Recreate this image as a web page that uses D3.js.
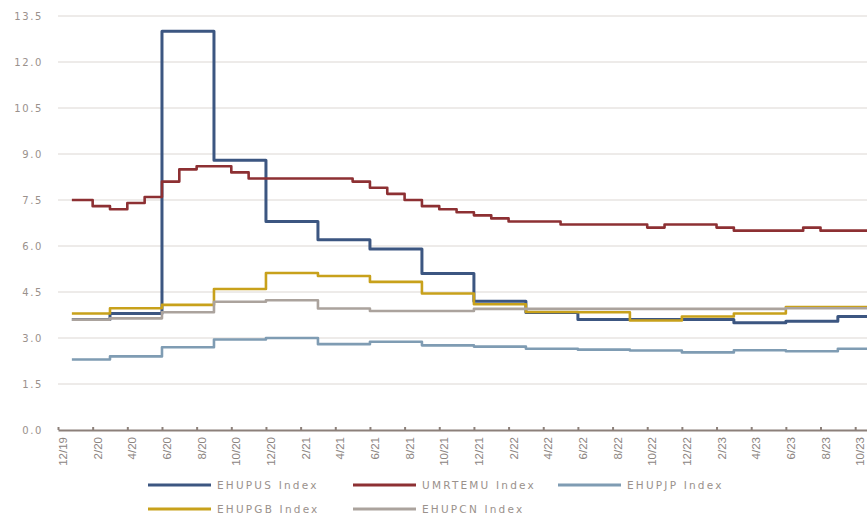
<!DOCTYPE html>
<html lang="en"><head>
<meta charset="utf-8">
<title>Unemployment forecasts</title>
<script src="https://cdn.jsdelivr.net/npm/d3@7/dist/d3.min.js"></script>
<style>
  body { margin: 0; background: #fff; }
  svg { display: block; }
</style>
</head>
<body>
<script type="text/javascript">

var width = 867;
var height = 515;

// month index 0 = 12/19; each value holds for that month (step series)
var tickLabels = ["12/19", "2/20", "4/20", "6/20", "8/20", "10/20", "12/20", "2/21", "4/21", "6/21",
                  "8/21", "10/21", "12/21", "2/22", "4/22", "6/22", "8/22", "10/22", "12/22", "2/23",
                  "4/23", "6/23", "8/23", "10/23"];
var yTicks = [0, 1.5, 3, 4.5, 6, 7.5, 9, 10.5, 12, 13.5];
var startMonth = 0.8;   // first observation, late Dec 2019

var seriesNames = ["EHUPUS Index", "UMRTEMU Index", "EHUPJP Index", "EHUPGB Index", "EHUPCN Index"];
var seriesColors = ["#3c5681", "#8d3033", "#7f9cb3", "#c8a11b", "#aba39d"];

var ehupus = [3.6, 3.6, 3.6, 3.8, 3.8, 3.8, 13.0, 13.0, 13.0, 8.8, 8.8, 8.8,
              6.8, 6.8, 6.8, 6.2, 6.2, 6.2, 5.9, 5.9, 5.9, 5.1, 5.1, 5.1,
              4.2, 4.2, 4.2, 3.83, 3.83, 3.83, 3.6, 3.6, 3.6, 3.6, 3.6, 3.6,
              3.6, 3.6, 3.6, 3.5, 3.5, 3.5, 3.55, 3.55, 3.55, 3.7, 3.7, 3.7];
var umrtemu = [7.5, 7.5, 7.3, 7.2, 7.4, 7.6, 8.1, 8.5, 8.6, 8.6, 8.4, 8.2,
               8.2, 8.2, 8.2, 8.2, 8.2, 8.1, 7.9, 7.7, 7.5, 7.3, 7.2, 7.1,
               7.0, 6.9, 6.8, 6.8, 6.8, 6.7, 6.7, 6.7, 6.7, 6.7, 6.6, 6.7,
               6.7, 6.7, 6.6, 6.5, 6.5, 6.5, 6.5, 6.6, 6.5, 6.5, 6.5, 6.5];
var ehupjp = [2.3, 2.3, 2.3, 2.4, 2.4, 2.4, 2.7, 2.7, 2.7, 2.95, 2.95, 2.95,
              3.0, 3.0, 3.0, 2.8, 2.8, 2.8, 2.88, 2.88, 2.88, 2.76, 2.76, 2.76,
              2.72, 2.72, 2.72, 2.65, 2.65, 2.65, 2.62, 2.62, 2.62, 2.59, 2.59, 2.59,
              2.53, 2.53, 2.53, 2.6, 2.6, 2.6, 2.57, 2.57, 2.57, 2.65, 2.65, 2.65];
var ehupgb = [3.8, 3.8, 3.8, 3.97, 3.97, 3.97, 4.08, 4.08, 4.08, 4.6, 4.6, 4.6,
              5.12, 5.12, 5.12, 5.02, 5.02, 5.02, 4.83, 4.83, 4.83, 4.45, 4.45, 4.45,
              4.1, 4.1, 4.1, 3.85, 3.85, 3.85, 3.84, 3.84, 3.84, 3.57, 3.57, 3.57,
              3.7, 3.7, 3.7, 3.8, 3.8, 3.8, 4.01, 4.01, 4.01, 4.01, 4.01, 4.01];
var ehupcn = [3.6, 3.6, 3.6, 3.64, 3.64, 3.64, 3.84, 3.84, 3.84, 4.18, 4.18, 4.18,
              4.23, 4.23, 4.23, 3.96, 3.96, 3.96, 3.88, 3.88, 3.88, 3.88, 3.88, 3.88,
              3.95, 3.95, 3.95, 3.95, 3.95, 3.95, 3.95, 3.95, 3.95, 3.95, 3.95, 3.95,
              3.95, 3.95, 3.95, 3.95, 3.95, 3.95, 3.97, 3.97, 3.97, 3.97, 3.97, 3.97];

var seriesValues = [ehupus, umrtemu, ehupjp, ehupgb, ehupcn];

var svg = d3.select("body").append("svg")
            .attr("width", width)
            .attr("height", height);

var x = d3.scaleLinear().domain([0, 48]).range([58, 58 + 48 * 17.33]);
var y = d3.scaleLinear().domain([0, 13.5]).range([430, 16]);

// gridlines
svg.append("g")
    .selectAll("line")
    .data(yTicks.filter(d => d > 0))
    .enter()
    .append("line")
    .attr("x1", x(0))
    .attr("x2", x(48))
    .attr("y1", d => y(d))
    .attr("y2", d => y(d))
    .attr("stroke", "#dcd7d3")
    .attr("stroke-width", 1);

// y labels
svg.append("g")
    .selectAll("text")
    .data(yTicks)
    .enter()
    .append("text")
    .attr("x", 43)
    .attr("y", d => y(d))
    .attr("dy", "0.35em")
    .attr("text-anchor", "end")
    .attr("font-family", "DejaVu Sans, Verdana, sans-serif")
    .attr("font-size", "10px")
    .attr("letter-spacing", "1.6px")
    .attr("fill", "#9a918c")
    .text(d => d.toFixed(1));

// x axis
var xAxis = d3.axisBottom(x)
    .tickValues(tickLabels.map((d, i) => i * 2))
    .tickFormat((d, i) => tickLabels[i])
    .tickSizeInner(-3)
    .tickSizeOuter(0);

var gx = svg.append("g")
    .attr("transform", "translate(0," + y(0) + ")")
    .call(xAxis);

gx.select(".domain").attr("stroke", "#8c807a").attr("stroke-width", 2);
gx.selectAll(".tick line").attr("stroke", "#8c807a").attr("stroke-width", 2);
gx.selectAll(".tick text")
    .attr("transform", "rotate(-90)")
    .attr("x", -7)
    .attr("y", 0)
    .attr("dy", "0.75em")
    .attr("text-anchor", "end")
    .attr("font-family", "Liberation Sans Narrow, Arial Narrow, sans-serif")
    .attr("font-stretch", "condensed")
    .attr("font-size", "11.5px")
    .attr("fill", "#8c847f");

// step lines
var line = d3.line()
    .x(d => x(d[0]))
    .y(d => y(d[1]))
    .curve(d3.curveStepAfter);

seriesValues.forEach((vals, s) => {
    var pts = vals.map((v, m) => [m === 0 ? startMonth : m, v]);
    pts.push([vals.length, vals[vals.length - 1]]);
    svg.append("path")
        .datum(pts)
        .attr("d", line)
        .attr("fill", "none")
        .attr("stroke", seriesColors[s])
        .attr("stroke-linejoin", "round")
        .attr("stroke-width", s === 0 ? 3 : 2.6);
});

// legend
var legend = svg.append("g")
    .selectAll("g")
    .data(seriesNames)
    .enter()
    .append("g")
    .attr("transform", (d, i) => "translate(" + (148 + (i % 3) * 205) + "," + (485 + Math.floor(i / 3) * 24) + ")");

legend.append("line")
    .attr("x1", 0)
    .attr("x2", 63)
    .attr("stroke", (d, i) => seriesColors[i])
    .attr("stroke-width", 3);

legend.append("text")
    .attr("x", 69)
    .attr("dy", "0.35em")
    .attr("font-family", "DejaVu Sans, Verdana, sans-serif")
    .attr("font-size", "10.5px")
    .attr("letter-spacing", "2.2px")
    .attr("fill", "#9a918c")
    .text(d => d);

</script>
</body></html>
